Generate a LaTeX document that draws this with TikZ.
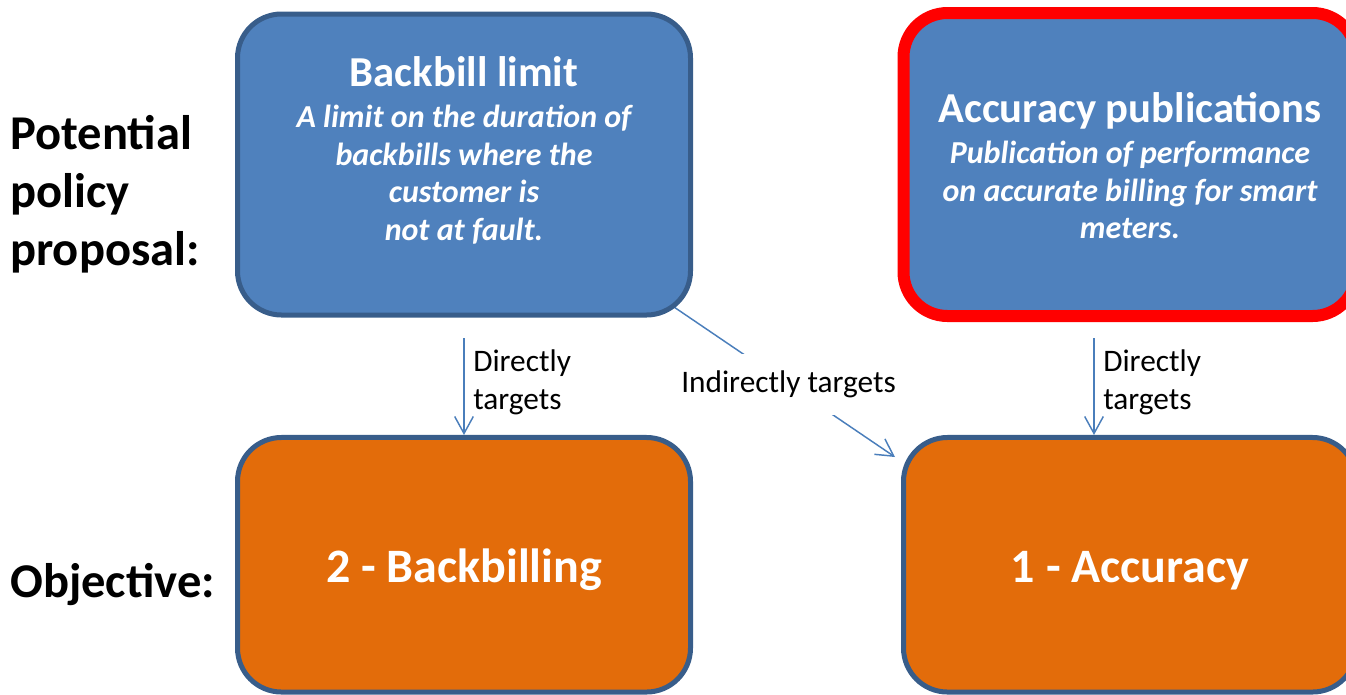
\documentclass[tikz,border=0pt]{standalone}
\usepackage{fontspec}
\setmainfont{Carlito}
\usetikzlibrary{arrows.meta,backgrounds}
\definecolor{boxblue}{HTML}{4F81BD}
\definecolor{edgeblue}{HTML}{385D8A}
\definecolor{objorange}{HTML}{E36C0A}
\definecolor{linkblue}{HTML}{4A7EBB}
\definecolor{hilite}{HTML}{FF0000}

\begin{document}
\begin{tikzpicture}[x=0.75pt,y=-0.75pt,
  panel/.style={rectangle, rounded corners=33pt, inner sep=0pt,
    minimum width=339.75pt, draw=edgeblue, line width=3.75pt},
  policybox/.style={panel, fill=boxblue, minimum height=225.75pt},
  goalbox/.style={panel, fill=objorange, minimum height=190.9pt},
  boxtitle/.style={text=white, anchor=base, inner sep=0pt,
    font=\fontsize{32}{38}\selectfont\bfseries},
  boxbody/.style={text=white, anchor=north, align=center, inner sep=0pt,
    font=\fontsize{24}{28.3}\selectfont\bfseries\itshape},
  goaltext/.style={text=white, anchor=base, inner sep=0pt,
    font=\fontsize{36}{43}\selectfont\bfseries},
  rowlabel/.style={text=black, align=left, inner sep=0pt,
    font=\fontsize{36.4}{43.5}\selectfont\bfseries},
  linklabel/.style={text=black, align=left, inner sep=0pt,
    font=\fontsize{23.5}{28.5}\selectfont},
  link/.style={draw=linkblue, line width=1.1pt,
    -{Straight Barb[length=12.75pt,width=14pt]}}
]
\useasboundingbox (0,0) rectangle (1346,694);
\clip (0,0) rectangle (1346,694);

% row labels
\node[rowlabel, anchor=north west] (rowpolicy) at (10,108.4)
  {\strut Potential\\\strut policy\\\strut proposal:};
\node[rowlabel, anchor=base west] (rowgoal) at (10,597) {Objective:};

% policy proposals
\node[policybox] (bb) at (464,164.5) {};
\node[boxtitle] (bbt) at (464,86) {Backbill limit};
\node[boxbody] (bbd) at (464,100.6)
  {\strut A limit on the duration of\\\strut backbills where the\\\strut customer is\\\strut not at fault.};

\node[policybox, draw=hilite, line width=9pt, minimum height=227.25pt] (ap) at (1130,164.5) {};
\node[boxtitle] (apt) at (1130,122) {Accuracy publications};
\node[boxbody] (apd) at (1130,136.6)
  {\strut Publication of performance\\\strut on accurate billing for smart\\\strut meters.};

% objectives
\node[goalbox] (bk) at (464,564.75) {};
\node[goaltext] (bkt) at (464,582) {2 - Backbilling};
\node[goalbox] (acc) at (1130,564.75) {};
\node[goaltext] (acct) at (1130,582) {1 - Accuracy};

% links
\coordinate (indtip) at (895,457);
\begin{pgfonlayer}{background}
  \draw[link] (bb.center) -- node[pos=0.753, fill=white, inner xsep=2pt,
    minimum height=46pt, font=\fontsize{23.5}{28.5}\selectfont] (indlbl)
    {Indirectly targets} (indtip);
\end{pgfonlayer}
\draw[link, shorten <=15.4pt] (bb.south) -- (bk.north);
\draw[link, shorten <=12pt] ([xshift=-27pt]ap.south) -- ([xshift=-27pt]acc.north);

\node[linklabel, anchor=north west] (dl1) at (473,344.4) {\strut Directly\\\strut targets};
\node[linklabel, anchor=north west] (dl2) at (1103,344.4) {\strut Directly\\\strut targets};
\end{tikzpicture}
\end{document}
